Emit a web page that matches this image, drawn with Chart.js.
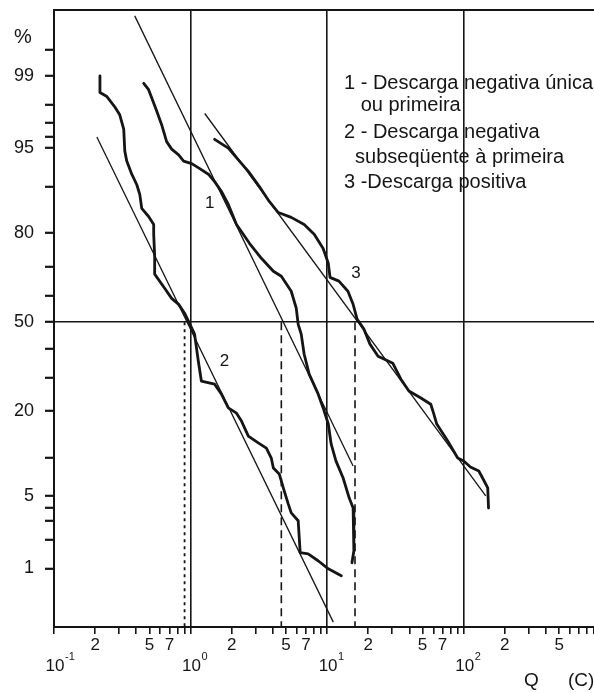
<!DOCTYPE html>
<html>
<head>
<meta charset="utf-8">
<script src="https://cdn.jsdelivr.net/npm/chart.js@4.4.1/dist/chart.umd.min.js"></script>
<style>
  html, body { margin: 0; padding: 0; background: #fff; }
</style>
</head>
<body>
<canvas id="chargeChart" width="594" height="693"></canvas>
<script>
// Curve 1 - descarga negativa unica ou primeira (Q in C, cumulative %)
const negFirstQ = [0.454, 0.493, 0.519, 0.565, 0.614, 0.668, 0.727, 0.818, 0.889, 1.02, 1.16, 1.35, 1.5, 1.68, 1.89, 2.17, 2.7, 3.3, 4.04, 4.62, 5.46, 5.94, 6.14, 6.46, 6.79, 7.39, 8.59, 9.35, 10.2, 10.7, 11.6, 13.1, 14.5, 15.5, 15.7, 15.7, 15.2];
const negFirstPct = [98.8, 98.6, 98.3, 97.7, 96.9, 95.6, 94.9, 94.3, 93.6, 93.3, 92.7, 91.9, 90.8, 89.2, 86.7, 82.2, 77.2, 72.7, 68.5, 66.8, 61.5, 55.3, 49.2, 45.5, 38.1, 31.2, 24.9, 20.9, 16.8, 12.5, 9.5, 7.05, 4.85, 3.96, 2.6, 1.54, 1.15];

// Curve 2 - descarga negativa subsequente
const negSubsQ = [0.217, 0.217, 0.244, 0.279, 0.303, 0.324, 0.33, 0.341, 0.371, 0.404, 0.425, 0.439, 0.493, 0.537, 0.537, 0.546, 0.546, 0.646, 0.727, 0.818, 0.904, 0.983, 1.07, 1.14, 1.2, 1.5, 1.68, 1.89, 2.17, 2.36, 2.65, 3.13, 3.59, 3.9, 4.04, 4.46, 4.85, 5.19, 5.46, 6.14, 6.25, 6.35, 7.26, 8.59, 10.2, 12.7];
const negSubsPct = [99.0, 98.5, 98.35, 97.9, 97.5, 96.6, 94.7, 93.6, 91.9, 90.3, 88.6, 85.9, 84.1, 82.2, 79.7, 73.3, 67.5, 62.6, 58.9, 56.7, 53.4, 49.6, 45.5, 35.6, 28.9, 27.9, 24.9, 20.9, 19.5, 17.5, 14.1, 12.7, 11.7, 9.97, 8.42, 7.58, 5.55, 4.3, 3.58, 3.03, 2.08, 1.47, 1.43, 1.21, 0.99, 0.83];

// Curve 3 - descarga positiva
const positiveQ = [1.5, 1.89, 2.28, 2.65, 3.19, 3.77, 4.39, 5.46, 6.79, 8.04, 9.35, 10.2, 10.5, 12.2, 14.2, 15.5, 16.6, 18.6, 20.6, 23.6, 30.3, 34.7, 39.7, 48.6, 57.4, 60.4, 63.5, 76.4, 90.4, 100, 112, 129, 140, 150, 152];
const positivePct = [95.8, 95.0, 93.6, 92.3, 90.0, 87.3, 85.0, 83.9, 82.2, 79.7, 75.7, 71.1, 66.4, 65.1, 61.5, 56.7, 51.1, 47.4, 41.8, 37.4, 34.9, 29.5, 25.8, 23.7, 21.9, 19.3, 16.8, 13.1, 9.97, 9.49, 8.57, 7.99, 6.8, 5.87, 3.96];

// log-normal fit lines (end points)
const fitNegFirstQ = [0.39, 15.5];
const fitNegFirstPct = [99.81, 8.72];
const fitNegSubsQ = [0.206, 11.1];
const fitNegSubsPct = [96.0, 0.23];
const fitPositiveQ = [1.27, 145];
const fitPositivePct = [97.57, 5.03];

// medians (dashed verticals from 50 % down)
const medianQ = [0.904, 4.62, 16.0];
const medianPct = [50, 0.1];

// axes
const yTickPct = [99.5, 99, 98, 97, 96, 95, 90, 80, 70, 60, 50, 40, 30, 20, 10, 5, 4, 3, 2, 1];
const yLabelPct = [99, 95, 80, 50, 20, 5, 1];
const xDecades = [0.1, 1, 10, 100];
const xDecadeExp = ["-1", "0", "1", "2"];
const xLabelQ = [0.2, 0.5, 0.7, 2, 5, 7, 20, 50, 70, 200, 500];
const xGridQ = [1, 10, 100];

const legendLines = [
  "1 - Descarga negativa única",
  "   ou primeira",
  "2 - Descarga negativa",
  "  subseqüente à primeira",
  "3 -Descarga positiva",
];

const ink = "#151515";
const fontFamily = "'Liberation Sans', Arial, sans-serif";

// inverse normal cdf (Acklam), turns % into the probability-paper coordinate
const probit = (pct) => {
  const p = pct / 100;
  const a = [-39.69683028665376, 220.9460984245205, -275.9285104469687, 138.357751867269, -30.66479806614716, 2.506628277459239];
  const b = [-54.47609879822406, 161.5858368580409, -155.6989798598866, 66.80131188771972, -13.28068155288572];
  const c = [-0.007784894002430293, -0.3223964580411365, -2.400758277161838, -2.549732539343734, 4.374664141464968, 2.938163982698783];
  const d = [0.007784695709041462, 0.3224671290700398, 2.445134137142996, 3.754408661907416];
  const tail = (q) =>
    (((((c[0] * q + c[1]) * q + c[2]) * q + c[3]) * q + c[4]) * q + c[5]) /
    ((((d[0] * q + d[1]) * q + d[2]) * q + d[3]) * q + 1);
  if (p < 0.02425) return tail(Math.sqrt(-2 * Math.log(p)));
  if (p > 1 - 0.02425) return -tail(Math.sqrt(-2 * Math.log(1 - p)));
  const q = p - 0.5;
  const r = q * q;
  return (
    ((((((a[0] * r + a[1]) * r + a[2]) * r + a[3]) * r + a[4]) * r + a[5]) * q) /
    (((((b[0] * r + b[1]) * r + b[2]) * r + b[3]) * r + b[4]) * r + 1)
  );
};

const toPoints = (qs, pcts) => qs.map((q, i) => ({ x: q, y: probit(pcts[i]) }));
const near = (v, list) => list.some((t) => Math.abs(v - t) / t < 1e-6);

const xTicks = [];
xDecades.forEach((dec) => {
  for (let m = 1; m <= 9; m++) xTicks.push(m * dec);
});

const curveStyle = { borderColor: ink, borderWidth: 2.8, pointRadius: 0, tension: 0, borderJoinStyle: "round", borderCapStyle: "round" };
const fitStyle = { borderColor: ink, borderWidth: 1.3, pointRadius: 0, tension: 0 };

const medianSets = medianQ.map((q, i) => ({
  data: toPoints([q, q], medianPct),
  borderColor: ink,
  borderWidth: i === 0 ? 1.8 : 1.6,
  borderDash: i === 0 ? [3, 4] : [8, 5],
  pointRadius: 0,
}));

const annotationPlugin = {
  id: "annotations",
  afterDraw(chart) {
    const { ctx, chartArea, scales } = chart;
    ctx.save();

    // top of the frame
    ctx.strokeStyle = ink;
    ctx.lineWidth = 2;
    ctx.beginPath();
    ctx.moveTo(chartArea.left, chartArea.top);
    ctx.lineTo(chartArea.right, chartArea.top);
    ctx.stroke();

    ctx.fillStyle = ink;
    ctx.textBaseline = "middle";

    // decade labels with superscript
    xDecades.forEach((dec, i) => {
      const px = scales.x.getPixelForValue(dec);
      ctx.font = `17px ${fontFamily}`;
      ctx.textAlign = "center";
      ctx.fillText("10", px + 1, 666);
      ctx.font = `11px ${fontFamily}`;
      ctx.textAlign = "left";
      ctx.fillText(xDecadeExp[i], px + 11, 657);
    });

    // axis names
    ctx.font = `20px ${fontFamily}`;
    ctx.textAlign = "center";
    ctx.fillText("%", 23, 37);
    ctx.font = `19px ${fontFamily}`;
    ctx.textAlign = "left";
    ctx.fillText("Q", 524, 681);
    ctx.fillText("(C)", 568, 681);

    // legend text
    ctx.font = `20px ${fontFamily}`;
    const legendY = [83, 105, 132, 157, 182];
    legendLines.forEach((line, i) => ctx.fillText(line, 344, legendY[i]));

    // curve numbers
    ctx.font = `17px ${fontFamily}`;
    ctx.textAlign = "center";
    const curveTags = [
      { text: "1", q: 1.38, pct: 86.9 },
      { text: "2", q: 1.77, pct: 35.6 },
      { text: "3", q: 16.3, pct: 67.8 },
    ];
    curveTags.forEach((t) => {
      ctx.fillText(t.text, scales.x.getPixelForValue(t.q), scales.y.getPixelForValue(probit(t.pct)));
    });

    ctx.restore();
  },
};

const chargeCtx = document.getElementById("chargeChart").getContext("2d");
const chargeChart = new Chart(chargeCtx, {
  type: "line",
  data: {
    datasets: [
      { data: toPoints(negFirstQ, negFirstPct), ...curveStyle },
      { data: toPoints(negSubsQ, negSubsPct), ...curveStyle },
      { data: toPoints(positiveQ, positivePct), ...curveStyle },
      { data: toPoints(fitNegFirstQ, fitNegFirstPct), ...fitStyle },
      { data: toPoints(fitNegSubsQ, fitNegSubsPct), ...fitStyle },
      { data: toPoints(fitPositiveQ, fitPositivePct), ...fitStyle },
      ...medianSets,
    ],
  },
  options: {
    responsive: false,
    animation: false,
    devicePixelRatio: 1,
    layout: { autoPadding: false, padding: { top: 10, right: 0, left: 0, bottom: 0 } },
    plugins: { legend: { display: false }, tooltip: { enabled: false } },
    scales: {
      x: {
        type: "logarithmic",
        min: 0.1,
        max: 900,
        afterBuildTicks: (axis) => {
          axis.ticks = xTicks.map((v) => ({ value: v }));
        },
        afterFit: (axis) => {
          axis.height = 66;
          axis.paddingLeft = 0;
          axis.paddingRight = 0;
        },
        ticks: {
          autoSkip: false,
          maxRotation: 0,
          padding: 1,
          color: ink,
          font: { family: fontFamily, size: 17 },
          callback: (value, index) => {
            const v = xTicks[index];
            return near(v, xLabelQ) ? String(Math.round(v / Math.pow(10, Math.floor(Math.log10(v) + 1e-9)))) : "";
          },
        },
        grid: {
          drawOnChartArea: true,
          color: (c) => (c.tick && near(c.tick.value, xGridQ) ? ink : "rgba(0,0,0,0)"),
          lineWidth: 1.6,
          tickColor: ink,
          tickWidth: 1.6,
          tickLength: 7,
        },
        border: { display: true, color: ink, width: 2 },
      },
      y: {
        type: "linear",
        min: -2.88,
        max: 2.95,
        afterBuildTicks: (axis) => {
          axis.ticks = yTickPct.map((p) => ({ value: probit(p) }));
        },
        afterFit: (axis) => {
          axis.width = 54;
          axis.paddingTop = 0;
          axis.paddingBottom = 0;
        },
        ticks: {
          autoSkip: false,
          padding: 11,
          color: ink,
          font: { family: fontFamily, size: 18 },
          callback: (value, index) => (yLabelPct.includes(yTickPct[index]) ? String(yTickPct[index]) : ""),
        },
        grid: {
          drawOnChartArea: true,
          color: (c) => (c.tick && Math.abs(c.tick.value) < 1e-9 ? ink : "rgba(0,0,0,0)"),
          lineWidth: 1.6,
          tickColor: ink,
          tickWidth: 2.2,
          tickLength: 9,
        },
        border: { display: true, color: ink, width: 2 },
      },
    },
  },
  plugins: [annotationPlugin],
});
</script>
</body>
</html>
